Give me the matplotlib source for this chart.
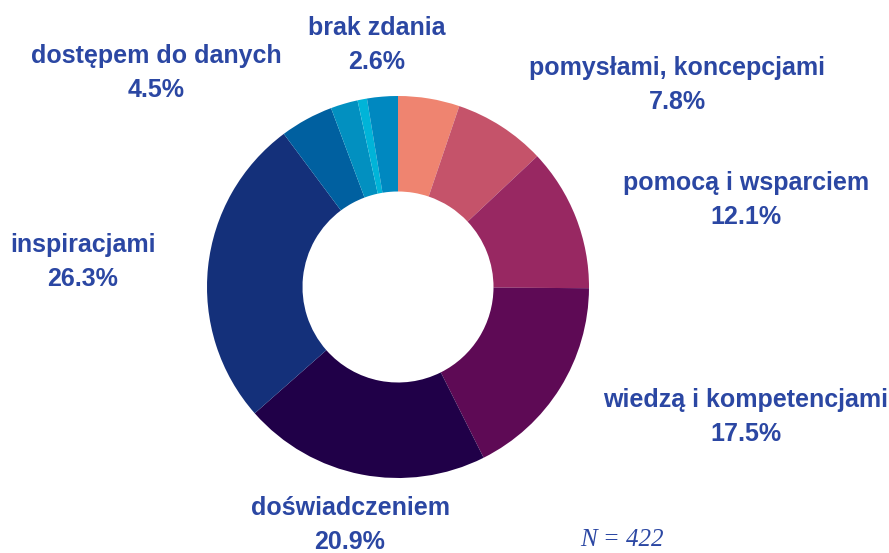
import matplotlib
matplotlib.use('Agg')
import matplotlib.pyplot as plt

# data (clockwise from 12 o'clock)
labels = ['', 'pomysłami, koncepcjami', 'pomocą i wsparciem', 'wiedzą i kompetencjami',
          'doświadczeniem', 'inspiracjami', 'dostępem do danych', '', '', 'brak zdania']
values = [5.2, 7.8, 12.1, 17.5, 20.9, 26.3, 4.5, 2.3, 0.8, 2.6]
colors = ['#EF8470', '#C5536A', '#982862', '#5E0A55', '#200048',
          '#14307A', '#0060A0', '#0290C0', '#00B4D8', '#0088C0']

# label centres in pixels (x, y of first line, from top-left)
label_pos = {1: (677, 68), 2: (746, 183), 3: (746, 400), 4: (350, 508),
             5: (83, 245), 6: (156, 56), 9: (377, 28)}

W, H = 889, 553
txt_color = '#2B47A3'
font = ['Liberation Sans', 'DejaVu Sans']

fig = plt.figure(figsize=(W / 100, H / 100), dpi=100)
cx, cy, r = 398, 287, 191
ax = fig.add_axes([(cx - r) / W, (H - cy - r) / H, 2 * r / W, 2 * r / H])
ax.pie(values, colors=colors, startangle=90, counterclock=False, radius=1,
       wedgeprops=dict(width=0.5, linewidth=0))
ax.set_xlim(-1, 1)
ax.set_ylim(-1, 1)
ax.axis('off')

for i, (x, y) in label_pos.items():
    fig.text(x / W, 1 - y / H, labels[i], ha='center', va='center',
             fontsize=18, fontweight='bold', color=txt_color, family=font)
    fig.text(x / W, 1 - (y + 34) / H, f'{values[i]:.1f}%', ha='center', va='center',
             fontsize=18, fontweight='bold', color=txt_color, family=font)

fig.text(622 / W, 1 - 540 / H, 'N = 422', ha='center', va='center', fontsize=18,
         style='italic', color=txt_color, family=['Liberation Serif', 'DejaVu Serif'])

fig.savefig('out.png', dpi=100)
